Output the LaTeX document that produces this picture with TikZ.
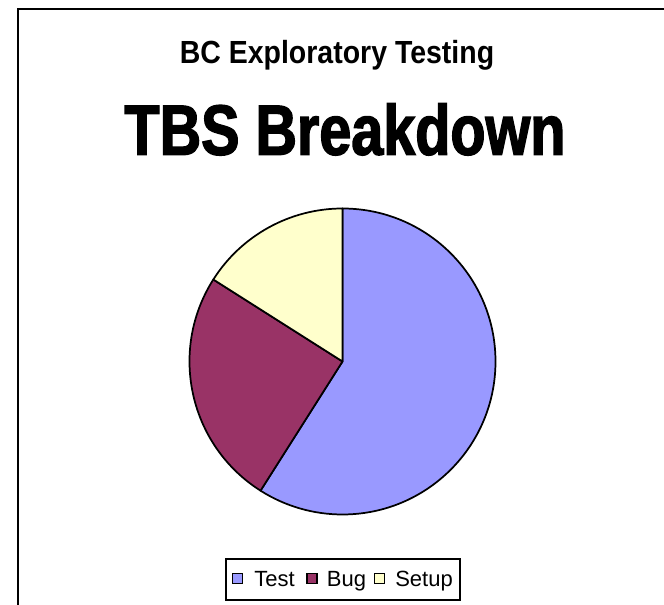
\documentclass[tikz,border=0pt]{standalone}
\usepackage{fontspec}
\setmainfont{Liberation Sans}
\newfontfamily\subtitlefont[FakeStretch=0.89]{Liberation Sans}
\newfontfamily\titlefont[FakeStretch=0.81,FakeBold=2]{Liberation Sans}
\definecolor{testcol}{HTML}{9999FF}
\definecolor{bugcol}{HTML}{993366}
\definecolor{setupcol}{HTML}{FFFFCC}
\tikzset{
  slice/.style={draw=black, line width=1.3pt, line join=round},
  legkey/.style={draw=black, line width=0.9pt, minimum size=7.6pt, inner sep=0pt},
  legtext/.style={anchor=base west, inner sep=0pt, font=\fontsize{16.5}{18}\selectfont},
}

\begin{document}
\begin{tikzpicture}[x=0.75pt,y=0.75pt]
      \useasboundingbox (0,0) rectangle (664,605);
      \clip (0,0) rectangle (664,605);
      \fill[white] (0,0) rectangle (664,605);
      \draw[line width=1.8pt] (18,596) rectangle (690,-20);
      % titles
      \node[anchor=base, inner sep=0pt, font=\subtitlefont\bfseries\fontsize{24}{28}\selectfont] (subtitle) at (337,541.5) {BC Exploratory Testing};
      \node[anchor=base, inner sep=0pt, font=\titlefont\bfseries\fontsize{53.25}{60}\selectfont] (title) at (345,450.3) {TBS Breakdown};
      % pie
      \coordinate (centre) at (342.5,243.5);
      \filldraw[slice, fill=testcol] (centre) -- ++(90:153) arc[start angle=90, end angle=-122.4, radius=153] -- cycle;
      \filldraw[slice, fill=bugcol] (centre) -- ++(237.6:153) arc[start angle=237.6, end angle=147.6, radius=153] -- cycle;
      \filldraw[slice, fill=setupcol] (centre) -- ++(147.6:153) arc[start angle=147.6, end angle=90, radius=153] -- cycle;
      % legend
      \draw[line width=1.6pt] (225.7,5) rectangle (460,46);
      \node[legkey, fill=testcol] (keytest) at (237.5,26.5) {};
      \node[legtext] (labtest) at (254,18.3) {Test};
      \node[legkey, fill=bugcol] (keybug) at (312,26.5) {};
      \node[legtext] (labbug) at (326.7,18.3) {Bug};
      \node[legkey, fill=setupcol] (keysetup) at (379.5,26.5) {};
      \node[legtext] (labsetup) at (395,18.3) {Setup};
    \end{tikzpicture}
\end{document}
